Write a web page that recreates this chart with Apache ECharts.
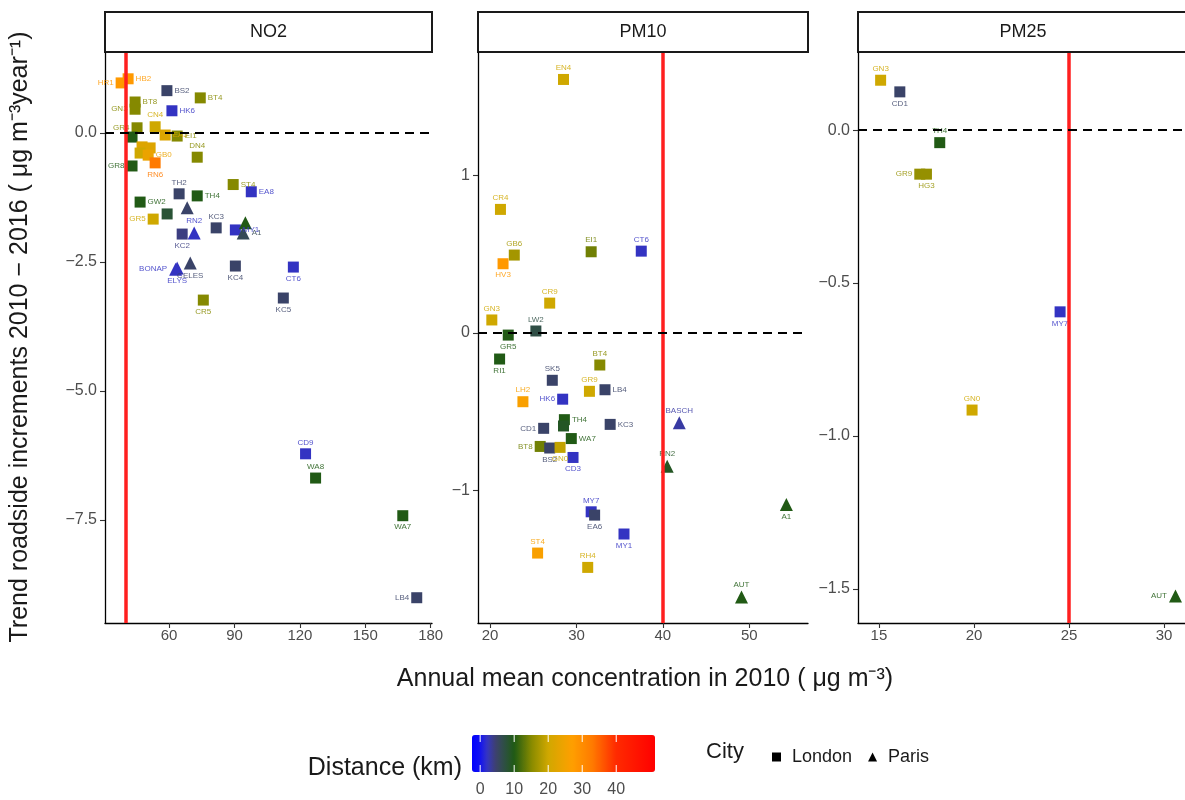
<!DOCTYPE html>
<html><head><meta charset="utf-8">
<script src="https://cdn.jsdelivr.net/npm/echarts@6/dist/echarts.min.js"></script>
<style>html,body{margin:0;padding:0;background:#fff}#c{width:1185px;height:800px}</style>
</head><body><div id="c"></div><script>
// ---------------- DATA ----------------
const panels = ['NO2', 'PM10', 'PM25'];
const limitValues = [40, 40, 25];

// NO2 panel
const no2Site  = ['HR1','HB2','BS2','HK6','BT4','BT8','GN3','GR4','CN4','EA5','EI1','GR7','GB6','GR9','CR9','GB0','RN6','GR8','DN4','ST4','EA8','TH2','TH4','GW2','OPERA','CW2','GR5','KC3','MY1','HAUSS','A1','KC2','RN2','KC4','CELES','ELYS','BONAP','CT6','CR5','KC5','CD9','WA8','WA7','LB4'];
const no2Conc  = [38.0,41.2,59.0,61.3,74.3,44.4,44.4,45.3,53.6,58.2,63.7,43.0,47.6,51.3,46.7,50.4,53.6,43.0,72.9,89.4,97.7,64.6,72.9,46.7,68.3,59.1,52.7,81.6,90.4,95.0,94.0,66.0,71.5,90.4,69.7,63.7,63.0,117.0,75.7,112.4,122.6,127.2,167.2,173.6];
const no2Trend = [0.97,1.05,0.82,0.43,0.68,0.60,0.46,0.10,0.12,-0.04,-0.06,-0.08,-0.27,-0.29,-0.39,-0.43,-0.58,-0.64,-0.47,-1.00,-1.14,-1.18,-1.22,-1.34,-1.45,-1.57,-1.67,-1.84,-1.88,-1.74,-1.94,-1.96,-1.94,-2.58,-2.52,-2.62,-2.64,-2.60,-3.24,-3.20,-6.22,-6.69,-7.42,-9.01];
const no2Dist  = [28,28,5,2,15,15,15,15,20,22,15,10,22,22,20,24,33,10,15,15,2,5,10,10,5,8,20,5,2,10,6,4,2,5,5,2,2,2,15,5,2,10,10,5];
const no2City  = ['L','L','L','L','L','L','L','L','L','L','L','L','L','L','L','L','L','L','L','L','L','L','L','L','P','L','L','L','L','P','P','L','P','L','P','P','P','L','L','L','L','L','L','L'];

// PM10 panel
const pm10Site  = ['EN4','CR4','GB6','HV3','EI1','CT6','CR9','GN3','LW2','GR5','RI1','SK5','BT4','GR9','LB4','HK6','LH2','CD1','TH4','TH2','KC3','BT8','BS2','GN0','WA7','CD3','MY7','EA6','MY1','RH4','ST4','BASCH','RN2','A1','AUT'];
const pm10Conc  = [28.5,21.2,22.8,21.5,31.7,37.5,26.9,20.2,25.3,22.1,21.1,27.2,32.7,31.5,33.3,28.4,23.8,26.2,28.6,28.5,33.9,25.8,26.9,28.1,29.4,29.6,31.7,32.1,35.5,31.3,25.5,41.9,40.5,54.3,49.1];
const pm10Trend = [1.61,0.785,0.495,0.44,0.516,0.52,0.19,0.083,0.013,-0.013,-0.165,-0.30,-0.203,-0.37,-0.36,-0.42,-0.436,-0.605,-0.55,-0.59,-0.58,-0.72,-0.73,-0.726,-0.67,-0.79,-1.135,-1.156,-1.276,-1.488,-1.397,-0.57,-0.845,-1.088,-1.676];
const pm10Dist  = [20,20,17,28,14,2,20,20,7,10,10,5,15,20,5,2,26,5,10,9,5,14,5,19,10,2,2,5,2,20,26,3,9,10,10];
const pm10City  = ['L','L','L','L','L','L','L','L','L','L','L','L','L','L','L','L','L','L','L','L','L','L','L','L','L','L','L','L','L','L','L','P','P','P','P'];

// PM25 panel
const pm25Site  = ['GN3','CD1','TH4','GR9','HG3','MY7','GN0','AUT'];
const pm25Conc  = [15.09,16.1,18.2,17.15,17.5,24.53,19.9,30.6];
const pm25Trend = [0.163,0.125,-0.041,-0.144,-0.144,-0.594,-0.915,-1.523];
const pm25Dist  = [20,5,10,16,16,2,20,10];
const pm25City  = ['L','L','L','L','L','L','L','P'];

// tick labels
const xTicks = [[60,90,120,150,180],[20,30,40,50],[15,20,25,30]];
const yTicks = [[0,-2.5,-5,-7.5],[1,0,-1],[0,-0.5,-1,-1.5]];
const yDecimals = [1,0,1];
const distTicks = [0,10,20,30,40];

// ---------------- STYLE / LAYOUT ----------------
const FONT = 'Liberation Sans, Arial, sans-serif';
const layout = {
  grids: [{left:105,width:327},{left:478,width:330},{left:858,width:330}],
  top: 53, height: 570,
  xRange: [[30.6,180.6],[18.6,56.8],[13.9,31.1]],
  yRange: [[-9.5,1.55],[-1.841,1.778],[-1.611,0.252]]
};
const distRange = [-2.4, 51.4];
const paletteAnchors = [
  [-2.4,'#0000ff'],[0,'#1212f0'],[2,'#3535c4'],[4.5,'#3d4070'],[7,'#2f4f45'],[10,'#1e5a14'],
  [15,'#868a00'],[20,'#d0a800'],[27,'#ff9f00'],[33,'#ff7a00'],[40,'#ff2a00'],[51.4,'#ff0000']
];
function hex2rgb(h){return [1,3,5].map(i=>parseInt(h.slice(i,i+2),16));}
function colorAt(v){
  const a=paletteAnchors;
  let k=0; while(k<a.length-2 && v>a[k+1][0]) k++;
  const [v0,c0]=a[k],[v1,c1]=a[k+1];
  const t=Math.max(0,Math.min(1,(v-v0)/(v1-v0)));
  const p=hex2rgb(c0),q=hex2rgb(c1);
  return 'rgb('+p.map((x,j)=>Math.round(x+(q[j]-x)*t)).join(',')+')';
}
const palette=[];
for(let i=0;i<80;i++) palette.push(colorAt(distRange[0]+(distRange[1]-distRange[0])*i/79));

const labelPlace = {
  NO2: {HR1:'left',HB2:'right',BS2:'right',HK6:'right',BT4:'right',BT8:'right',GN3:'left',GR4:'left',
        EA5:'right',EI1:'right',GR7:'none',GB6:'none',GR9:'none',CR9:'none',GB0:'right',RN6:'bottom',GR8:'left',
        DN4:'top',ST4:'right',EA8:'right',TH2:'top',TH4:'right',GW2:'right',OPERA:'none',CW2:'none',GR5:'left',
        KC3:'top',MY1:'right',HAUSS:'none',A1:'right',KC2:'bottom',RN2:'top',KC4:'bottom',CELES:'bottom',
        ELYS:'bottom',BONAP:'left',CT6:'bottom',CR5:'bottom',KC5:'bottom',CD9:'top',WA8:'top',WA7:'bottom',LB4:'left'},
  PM10: {HV3:'bottom',GR5:'bottom',RI1:'bottom',LB4:'right',HK6:'left',CD1:'left',TH4:'right',TH2:'none',KC3:'right',
         BT8:'left',BS2:'bottom',GN0:'bottom',WA7:'right',CD3:'bottom',EA6:'bottom',MY1:'bottom',A1:'bottom'},
  PM25: {CD1:'bottom',GR9:'left',HG3:'bottom',MY7:'bottom',AUT:'left'}
};

// ---------------- BUILD ----------------
const panelData = [
  [no2Site,no2Conc,no2Trend,no2Dist,no2City],
  [pm10Site,pm10Conc,pm10Trend,pm10Dist,pm10City],
  [pm25Site,pm25Conc,pm25Trend,pm25Dist,pm25City]
];
const grid=[], xAxis=[], yAxis=[], series=[], scatterIdx=[], graphic=[];
const axisLineStyle={color:'#000',width:1.3};
const tickStyle={color:'#333',width:1.1};
panels.forEach((p,i)=>{
  const g=layout.grids[i];
  grid.push({left:g.left,top:layout.top,width:g.width,height:layout.height});
  xAxis.push({type:'value',gridIndex:i,min:layout.xRange[i][0],max:layout.xRange[i][1],
    axisLine:{show:true,onZero:false,lineStyle:axisLineStyle},splitLine:{show:false},
    axisTick:{show:true,length:5,lineStyle:tickStyle,customValues:xTicks[i]},
    axisLabel:{customValues:xTicks[i],color:'#4d4d4d',fontSize:15,fontFamily:FONT,margin:5}});
  yAxis.push({type:'value',gridIndex:i,min:layout.yRange[i][0],max:layout.yRange[i][1],
    axisLine:{show:true,onZero:false,lineStyle:axisLineStyle},splitLine:{show:false},
    axisTick:{show:true,length:5,lineStyle:tickStyle,customValues:yTicks[i]},
    axisLabel:{customValues:yTicks[i],color:'#4d4d4d',fontSize:16,fontFamily:FONT,margin:8,
      formatter:v=>Number(v).toFixed(yDecimals[i]).replace('-','\u2212')}});
  const [site,conc,trend,dist,city]=panelData[i];
  [['L','London','rect',11],['P','Paris','triangle',13]].forEach(([code,name,sym,size])=>{
    const data=[];
    site.forEach((s,k)=>{
      if(city[k]!==code) return;
      const pos=(labelPlace[p]&&labelPlace[p][s])||'top';
      data.push({name:s,value:[conc[k],trend[k],dist[k]],
        label:pos==='none'?{show:false}:{show:true,position:pos,color:colorAt(dist[k])}});
    });
    scatterIdx.push(series.length);
    series.push({type:'scatter',name:name,xAxisIndex:i,yAxisIndex:i,symbol:sym,symbolSize:size,z:2,
      data:data,itemStyle:{opacity:1},
      label:{show:true,formatter:'{b}',fontSize:8,fontFamily:FONT,distance:2,opacity:0.85},
      emphasis:{disabled:true}});
  });
  // strip
  graphic.push({type:'rect',shape:{x:g.left,y:12,width:g.width,height:40},
    style:{fill:'#fff',stroke:'#1a1a1a',lineWidth:2}});
  graphic.push({type:'text',x:g.left+g.width/2,y:32,
    style:{text:p,font:'18px '+FONT,fill:'#1a1a1a',textAlign:'center',textVerticalAlign:'middle'}});
});
panels.forEach((p,i)=>{
  series.push({type:'scatter',xAxisIndex:i,yAxisIndex:i,data:[],z:3,silent:true,
    markLine:{silent:true,symbol:['none','none'],label:{show:false},animation:false,
      data:[
        {xAxis:limitValues[i],lineStyle:{color:'#ff1f1f',width:3.5,type:'solid'}},
        {yAxis:0,lineStyle:{color:'#000',width:2,type:[9,6]}}
      ]}});
});
// axis titles
graphic.push({type:'text',x:20,y:337,rotation:Math.PI/2,
  style:{text:'Trend roadside increments 2010 \u2212 2016 ( \u03bcg m\u207b\u00b3year\u207b\u00b9)',
    font:'25px '+FONT,fill:'#1a1a1a',textAlign:'center',textVerticalAlign:'middle'}});
graphic.push({type:'text',x:645,y:679,
  style:{text:'Annual mean concentration in 2010 ( \u03bcg m\u207b\u00b3)',
    font:'25px '+FONT,fill:'#1a1a1a',textAlign:'center',textVerticalAlign:'middle'}});
// colour legend
const bar={left:472,top:735,len:183,thick:37};
graphic.push({type:'text',x:462,y:768,
  style:{text:'Distance (km)',font:'25px '+FONT,fill:'#1a1a1a',textAlign:'right',textVerticalAlign:'middle'}});
distTicks.forEach(v=>{
  const x=bar.left+(v-distRange[0])/(distRange[1]-distRange[0])*bar.len;
  graphic.push({type:'text',x:x,y:790,
    style:{text:String(v),font:'16px '+FONT,fill:'#4d4d4d',textAlign:'center',textVerticalAlign:'middle'}});
  graphic.push({type:'line',shape:{x1:x,y1:bar.top,x2:x,y2:bar.top+7},style:{stroke:'#fff',lineWidth:1},z:100});
  graphic.push({type:'line',shape:{x1:x,y1:bar.top+bar.thick-7,x2:x,y2:bar.top+bar.thick},style:{stroke:'#fff',lineWidth:1},z:100});
});
graphic.push({type:'text',x:706,y:752,
  style:{text:'City',font:'22px '+FONT,fill:'#1a1a1a',textAlign:'left',textVerticalAlign:'middle'}});

const chart=echarts.init(document.getElementById('c'),null,{renderer:'canvas'});
chart.setOption({
  animation:false,
  backgroundColor:'#fff',
  grid:grid, xAxis:xAxis, yAxis:yAxis, series:series, graphic:graphic,
  visualMap:{type:'continuous',seriesIndex:scatterIdx,dimension:2,min:distRange[0],max:distRange[1],
    orient:'horizontal',left:bar.left,top:bar.top,itemWidth:bar.thick,itemHeight:bar.len,padding:0,
    calculable:false,realtime:false,hoverLink:false,text:null,showLabel:false,
    inRange:{color:palette}},
  legend:{left:767,top:743,orient:'horizontal',itemWidth:9,itemHeight:9,itemGap:16,selectedMode:false,
    textStyle:{fontSize:18,color:'#1a1a1a',fontFamily:FONT,padding:[0,0,0,6]},
    data:[{name:'London',icon:'rect',itemStyle:{color:'#000'}},{name:'Paris',icon:'triangle',itemStyle:{color:'#000'}}]}
});
</script></body></html>
